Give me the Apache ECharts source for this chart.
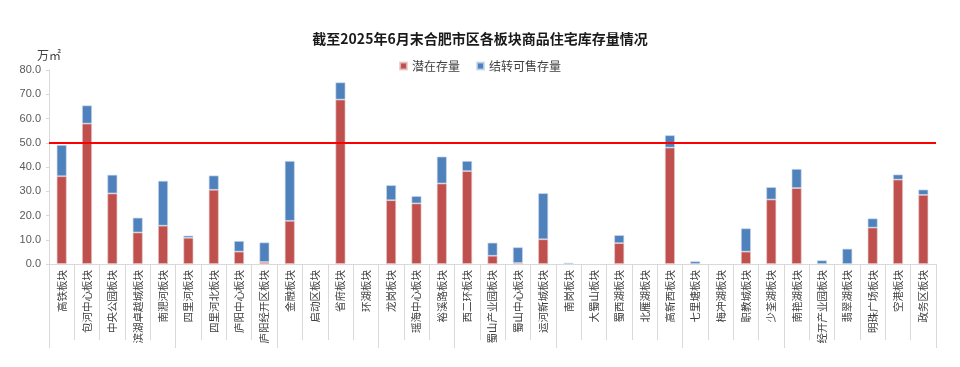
<!DOCTYPE html>
<html>
<head>
<meta charset="utf-8">
<script src="https://cdn.jsdelivr.net/npm/echarts@6/dist/echarts.min.js"></script>
<style>html,body{margin:0;padding:0;background:#fff;}#c{width:960px;height:367px;}</style>
</head>
<body>
<div id="c"></div>
<script>
var categories = ['高铁板块','包河中心板块','中央公园板块','滨湖卓越城板块','南淝河板块','四里河板块','四里河北板块','庐阳中心板块','庐阳经开区板块','金融板块','启动区板块','省府板块','环湖板块','龙岗板块','瑶海中心板块','裕溪路板块','西二环板块','蜀山产业园板块','蜀山中心板块','运河新城板块','南岗板块','大蜀山板块','蜀西湖板块','北雁湖板块','高新西板块','七里塘板块','梅冲湖板块','职教城板块','少荃湖板块','南艳湖板块','经开产业园板块','翡翠湖板块','明珠广场板块','空港板块','政务区板块'];
var potential = [36.2,57.9,29.1,13.0,15.8,10.8,30.6,5.1,0.8,17.8,0,67.8,0,26.3,25.0,33.2,38.3,3.4,0.4,10.2,0,0,8.6,0,48.0,0,0,5.1,26.6,31.3,0,0,15.0,34.8,28.5];
var carryover = [12.9,7.5,7.7,6.1,18.5,0.9,5.9,4.4,8.1,24.7,0,7.1,0,6.2,3.0,11.1,4.2,5.4,6.5,19.0,0.5,0,3.3,0,5.1,1.1,0,9.6,5.1,7.9,1.5,6.3,3.8,2.1,2.2];
var groupBounds = [0,5,9,13,16,20,25,29,35];
var threshold = 50;
var seriesNames = ['潜在存量','结转可售存量'];
var titleText = '截至2025年6月末合肥市区各板块商品住宅库存量情况';
var unitText = '万㎡';

function nz(arr) { return arr.map(function (v) { return v === 0 ? null : v; }); }

var chart = echarts.init(document.getElementById('c'));
var font = '"Noto Sans CJK SC", "Microsoft YaHei", sans-serif';
chart.setOption({
  animation: false,
  textStyle: {fontFamily: font},
  title: {text: titleText, left: 'center', top: 27, textStyle: {fontSize: 14, fontWeight: 'bold', color: '#1a1a1a', fontFamily: font}},
  legend: {top: 55, left: 'center', icon: 'rect', itemWidth: 7, itemHeight: 7, itemGap: 16,
    textStyle: {fontSize: 12, color: '#404040', fontFamily: font}, data: seriesNames},
  grid: {left: 49, right: 24, top: 70, bottom: 103, containLabel: false},
  xAxis: [{
    type: 'category', data: categories, position: 'bottom',
    axisLine: {lineStyle: {color: '#d9d9d9', width: 1}},
    axisTick: {show: true, length: 76, lineStyle: {color: '#d9d9d9'}},
    axisLabel: {rotate: 90, fontSize: 10.5, color: '#404040', margin: 6, interval: 0, fontFamily: font}
  }, {
    type: 'value', min: 0, max: categories.length, position: 'bottom',
    axisLine: {show: false}, splitLine: {show: false},
    axisTick: {show: true, length: 84, customValues: groupBounds, lineStyle: {color: '#d9d9d9'}},
    axisLabel: {show: false}
  }],
  yAxis: {
    type: 'value', min: 0, max: 80, interval: 10,
    name: unitText, nameLocation: 'end', nameGap: 9,
    nameTextStyle: {fontSize: 12, color: '#404040', align: 'center', padding: [0, 0, 0, 0]},
    axisLine: {show: true, lineStyle: {color: '#d9d9d9'}},
    axisTick: {show: true, length: 3, lineStyle: {color: '#d9d9d9'}},
    splitLine: {show: false},
    axisLabel: {fontSize: 11, color: '#595959', margin: 8, formatter: function (v) { return v.toFixed(1); }, fontFamily: 'Liberation Sans, Arial, sans-serif'}
  },
  series: [{
    name: seriesNames[0], type: 'bar', stack: 'a', data: nz(potential), barWidth: 10,
    itemStyle: {color: '#C0504D', borderColor: 'rgba(230,200,200,0.8)', borderWidth: 0.8},
    markLine: {silent: true, symbol: 'none', label: {show: false},
      lineStyle: {color: '#FF0000', width: 2, type: 'solid'}, data: [{yAxis: threshold}]}
  }, {
    name: seriesNames[1], type: 'bar', stack: 'a', data: nz(carryover), barWidth: 10,
    itemStyle: {color: '#4F81BD', borderColor: 'rgba(200,215,235,0.8)', borderWidth: 0.8}
  }]
});
</script>
</body>
</html>
